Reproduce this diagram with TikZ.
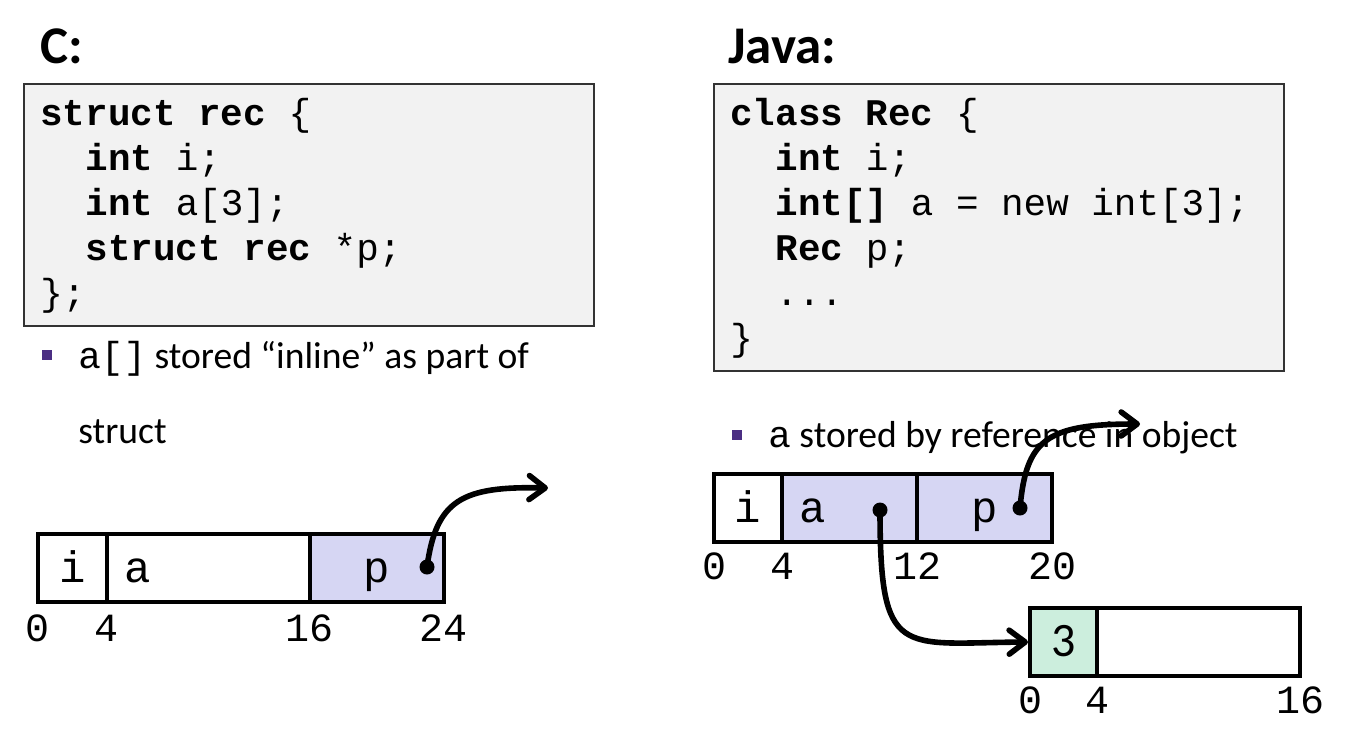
\documentclass[tikz,border=0pt]{standalone}
\usepackage{fontspec}
\setmainfont{Carlito}
\setmonofont{Liberation Mono}
\usetikzlibrary{arrows.meta}

\definecolor{codebg}{HTML}{F2F2F2}
\definecolor{ptrfill}{HTML}{D6D6F3}
\definecolor{arrfill}{HTML}{CCEEDD}
\definecolor{bulletpurple}{HTML}{4B2E83}
\newcommand{\codedots}{...}

\tikzset{
  heading/.style={font=\fontsize{26.5}{26.5}\selectfont\bfseries,anchor=base west,inner sep=0pt},
  codebox/.style={draw=black!80,line width=1pt,fill=codebg},
  codeline/.style={font=\fontsize{18.8}{18.8}\selectfont\ttfamily,anchor=base west,inner sep=0pt},
  bullet/.style={fill=bulletpurple,minimum size=4.8pt,inner sep=0pt},
  btext/.style={font=\fontsize{18.8}{18.8}\selectfont,anchor=base west,inner sep=0pt},
  cell/.style={draw=black,line width=2pt,minimum height=34pt,inner sep=0pt,
    text height=16pt,text depth=2pt,font=\fontsize{22}{22}\selectfont\ttfamily},
  leftcell/.style={text width=#1,align=left,inner xsep=8.5pt},
  offset/.style={font=\fontsize{20}{20}\selectfont\ttfamily,inner sep=0pt},
  ptrdot/.style={circle,fill=black,inner sep=0pt,minimum size=7.5pt},
  ptr/.style={line width=2.8pt,line cap=round,-{Straight Barb[length=8pt,width=12pt,round]}},
}

\begin{document}
\begin{tikzpicture}[x=0.5pt,y=-0.5pt]
  \useasboundingbox (0,0) rectangle (1350,752);

  % --- headings ---
  \node[heading] (hc) at (40,63) {C:};
  \node[heading] (hjava) at (728,63) {Java:};

  % --- C struct declaration ---
  \draw[codebox] (24,84) rectangle (594,326);
  \foreach \ln [count=\k] in {
      {\textbf{struct rec} \{},
      {\hspace{1.2em}\textbf{int} i;},
      {\hspace{1.2em}\textbf{int} a[3];},
      {\hspace{1.2em}\textbf{struct rec} *p;},
      {\};}}
    \node[codeline] (c-line-\k) at (40,{125+45*(\k-1)}) {\ln};

  % --- Java class declaration ---
  \draw[codebox] (714,84) rectangle (1284,371);
  \foreach \ln [count=\k] in {
      {\textbf{class Rec} \{},
      {\hspace{1.2em}\textbf{int} i;},
      {\hspace{1.2em}\textbf{int[]} a = new int[3];},
      {\hspace{1.2em}\textbf{Rec} p;},
      {\hspace{1.2em}\codedots},
      {\}}}
    \node[codeline] (j-line-\k) at (730,{125+45*(\k-1)}) {\ln};

  % --- bullets ---
  \node[bullet] (cbul) at (47,355) {};
  \node[btext] (cnote1) at (78,368) {{\ttfamily a[]} stored “inline” as part of};
  \node[btext] (cnote2) at (78,443) {struct};
  \node[bullet] (jbul) at (737,435) {};
  \node[btext] (jnote) at (768,447) {{\ttfamily a} stored by reference in object};

  % --- C layout ---
  \node[cell] (ci) at (72.5,568) [minimum width=34.5pt] {i};
  \node[cell,leftcell=84.5pt] (ca) at (208.5,568) {a};
  \node[cell,fill=ptrfill] (cp) at (377,568) [minimum width=67pt] {p};
  \foreach \x/\t in {38/0,107/4,310/16,444/24}
    \node[offset] (c-off-\t) at (\x,628) {\t};
  \node[ptrdot] (cpdot) at (427,567) {};
  \coordinate (cpend) at (548,488);
  \draw[ptr] (cpdot.center) .. controls (436,500) and (462,486) .. (cpend);

  % --- Java layout ---
  \node[cell] (ji) at (748,508) [minimum width=34pt] {i};
  \node[cell,fill=ptrfill,leftcell=50.5pt] (ja) at (849.5,508) {a};
  \node[cell,fill=ptrfill] (jp) at (984.5,508) [minimum width=67.5pt] {p};
  \foreach \x/\t in {714/0,782/4,917/12,1052/20}
    \node[offset] (j-off-\t) at (\x,566) {\t};

  % --- Java int[3] array ---
  \node[cell,fill=arrfill,font=\fontsize{24}{24}\selectfont] (arr0) at (1063.5,642)
    [minimum width=33.5pt] {3};
  \node[cell] (arr1) at (1198.5,642) [minimum width=101.5pt] {};
  \foreach \x/\t in {1030/0,1097/4,1300/16}
    \node[offset] (arr-off-\t) at (\x,700) {\t};

  % --- references ---
  \node[ptrdot] (jadot) at (880,510) {};
  \node[ptrdot] (jpdot) at (1020,508) {};
  \coordinate (jpend) at (1140,424);
  \draw[ptr] (jpdot.center) .. controls (1026,440) and (1046,424) .. (jpend);
  \draw[ptr] (jadot.center) .. controls (880,660) and (900,643) .. (arr0.west);
\end{tikzpicture}
\end{document}
